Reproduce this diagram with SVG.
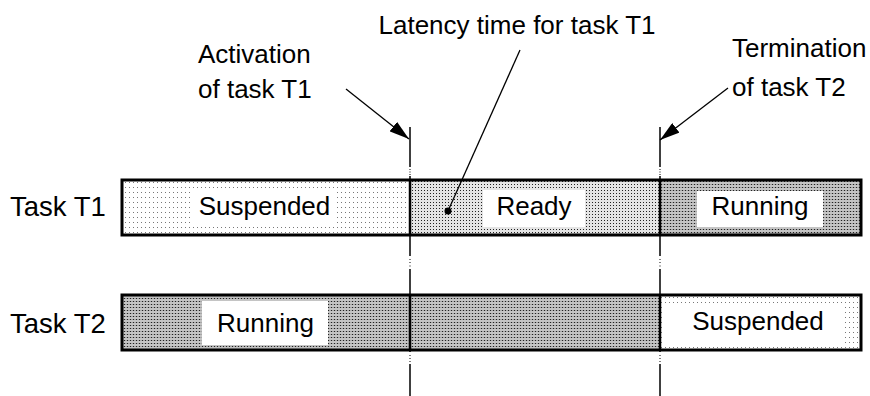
<svg xmlns="http://www.w3.org/2000/svg" width="870" height="396" viewBox="0 0 870 396">
<style>
text{font-family:"Liberation Sans",Arial,sans-serif;font-size:26px;fill:#000}
.task{font-size:27.5px}
.bar{stroke:#000;stroke-width:3}
.div{stroke:#000;stroke-width:2.5}
.lbl{fill:#fff}
.tl{stroke:#000;stroke-width:1.5;fill:none}
.dot{fill:#000}
.conn{stroke:#000;stroke-width:1.3;fill:none}
</style>
<defs>
<pattern id="pSusp" width="4" height="5" patternUnits="userSpaceOnUse">
<rect width="4" height="5" fill="#fff"/>
<rect x="1" y="2" width="1" height="1" fill="#777"/>
</pattern>
<pattern id="pReady" width="3" height="3" patternUnits="userSpaceOnUse">
<rect width="3" height="3" fill="#e4e4e4"/>
<rect x="1" y="1" width="1" height="1" fill="#222"/>
</pattern>
<pattern id="pRun" width="3" height="3" patternUnits="userSpaceOnUse">
<rect width="3" height="3" fill="#c4c4c4"/>
<rect x="0" y="1" width="3" height="1" fill="#a8a8a8"/>
<rect x="1" y="1" width="1" height="1" fill="#222"/>
</pattern>
<marker id="ah" viewBox="0 0 20 12" refX="20" refY="6" markerWidth="20" markerHeight="12" markerUnits="userSpaceOnUse" orient="auto">
<path d="M0,0 L20,6 L0,12 z" fill="#000"/>
</marker>
</defs>

<g id="timelines">
<line class="tl" x1="410" y1="127" x2="410" y2="167"/>
<rect class="dot" x="409.5" y="169" width="1" height="1"/>
<rect class="dot" x="409.5" y="171.5" width="1" height="1"/>
<rect class="dot" x="409.5" y="174" width="1" height="1"/>
<line class="tl" x1="410" y1="176" x2="410" y2="256"/>
<rect class="dot" x="409.5" y="259" width="1" height="1"/>
<rect class="dot" x="409.5" y="262" width="1" height="1"/>
<rect class="dot" x="409.5" y="265.5" width="1" height="1"/>
<line class="tl" x1="410" y1="269" x2="410" y2="352"/>
<rect class="dot" x="409.5" y="355" width="1" height="1"/>
<rect class="dot" x="409.5" y="358" width="1" height="1"/>
<rect class="dot" x="409.5" y="361" width="1" height="1"/>
<line class="tl" x1="410" y1="364" x2="410" y2="396"/>

<line class="tl" x1="660" y1="127" x2="660" y2="167"/>
<rect class="dot" x="659.5" y="169" width="1" height="1"/>
<rect class="dot" x="659.5" y="171.5" width="1" height="1"/>
<rect class="dot" x="659.5" y="174" width="1" height="1"/>
<line class="tl" x1="660" y1="176" x2="660" y2="256"/>
<rect class="dot" x="659.5" y="259" width="1" height="1"/>
<rect class="dot" x="659.5" y="262" width="1" height="1"/>
<rect class="dot" x="659.5" y="265.5" width="1" height="1"/>
<line class="tl" x1="660" y1="269" x2="660" y2="352"/>
<rect class="dot" x="659.5" y="355" width="1" height="1"/>
<rect class="dot" x="659.5" y="358" width="1" height="1"/>
<rect class="dot" x="659.5" y="361" width="1" height="1"/>
<line class="tl" x1="660" y1="364" x2="660" y2="396"/>
</g>

<g id="task-t1">
<text class="task" x="10" y="216">Task T1</text>
<rect x="122" y="180" width="288" height="55" fill="url(#pSusp)"/>
<rect x="410" y="180" width="250" height="55" fill="url(#pReady)"/>
<rect x="660" y="180" width="201" height="55" fill="url(#pRun)"/>
<rect class="lbl" x="192" y="189" width="145" height="37"/>
<rect class="lbl" x="483" y="190" width="102" height="37"/>
<rect class="lbl" x="697" y="191" width="126" height="36"/>
<text x="264.5" y="215" text-anchor="middle">Suspended</text>
<text x="534" y="215" text-anchor="middle">Ready</text>
<text x="760" y="215" text-anchor="middle">Running</text>
<rect class="bar" x="122" y="180" width="739" height="55" fill="none"/>
<line class="div" x1="410" y1="180" x2="410" y2="235"/>
<line class="div" x1="660" y1="180" x2="660" y2="235"/>
</g>

<g id="task-t2">
<text class="task" x="10" y="333">Task T2</text>
<rect x="122" y="295" width="538" height="55" fill="url(#pRun)"/>
<rect x="660" y="295" width="201" height="55" fill="url(#pSusp)"/>
<rect class="lbl" x="202" y="301" width="126" height="44"/>
<rect class="lbl" x="665" y="303" width="178" height="42"/>
<text x="265.5" y="332" text-anchor="middle">Running</text>
<text x="758" y="330" text-anchor="middle">Suspended</text>
<rect class="bar" x="122" y="295" width="739" height="55" fill="none"/>
<line class="div" x1="410" y1="295" x2="410" y2="350"/>
<line class="div" x1="660" y1="295" x2="660" y2="350"/>
</g>

<g id="annotation-latency">
<text x="517" y="34" text-anchor="middle">Latency time for task T1</text>
</g>
<g id="annotation-activation">
<text x="198" y="63">Activation</text>
<text x="198" y="98">of task T1</text>
</g>
<g id="annotation-termination">
<text x="732" y="57">Termination</text>
<text x="732" y="96">of task T2</text>
</g>

<g id="connectors">
<line class="conn" x1="346" y1="89" x2="409" y2="139" marker-end="url(#ah)"/>
<line class="conn" x1="728" y1="88" x2="660" y2="140" marker-end="url(#ah)"/>
<line class="conn" x1="520" y1="50" x2="448" y2="211"/>
<circle cx="448" cy="211" r="3.5" fill="#000"/>
</g>
</svg>
